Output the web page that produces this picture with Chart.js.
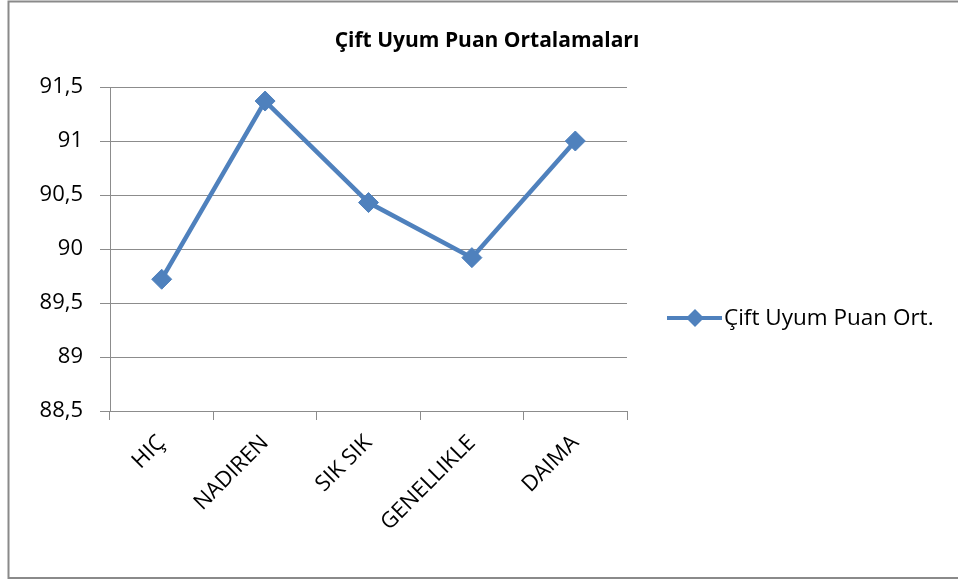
<!DOCTYPE html>
<html lang="tr">
<head>
  <meta charset="UTF-8">
  <title>Çift Uyum Puan Ortalamaları</title>
  <script src="https://cdn.jsdelivr.net/npm/chart.js"></script>
  <style>
    html, body { margin: 0; padding: 0; background: #fff; }
  </style>
</head>
<body>
  <canvas id="uyumChart" width="958" height="581"></canvas>

  <script>
    // data
    const categories = ['HIÇ', 'NADIREN', 'SIK SIK', 'GENELLIKLE', 'DAIMA'];
    const puanOrt = [89.72, 91.37, 90.43, 89.92, 91.0];
    const seriesName = 'Çift Uyum Puan Ort.';
    const chartTitle = 'Çift Uyum Puan Ortalamaları';
    const yMin = 88.5, yMax = 91.5, yStep = 0.5;

    const FONT = "'Open Sans', sans-serif";
    const BLUE = '#4F81BD';
    const GRID = '#8c8c8c';

    // frame, title and legend drawn like the Excel chart
    const excelDecor = {
      id: 'excelDecor',
      beforeDraw(chart) {
        const ctx = chart.ctx;
        ctx.save();
        ctx.fillStyle = '#fff';
        ctx.fillRect(0, 0, chart.width, chart.height);
        ctx.strokeStyle = '#8a8a8a';
        ctx.lineWidth = 2;
        ctx.strokeRect(8.5, 1.5, 1000, 576.5);
        ctx.restore();
      },
      afterDraw(chart) {
        const ctx = chart.ctx;
        const ds = chart.data.datasets[0];
        ctx.save();
        // title
        ctx.fillStyle = '#000';
        ctx.font = "bold 21px " + FONT;
        ctx.textAlign = 'center';
        ctx.textBaseline = 'middle';
        ctx.fillText(chartTitle, 487, 41);
        // legend
        const ly = 318;
        ctx.strokeStyle = ds.borderColor;
        ctx.lineWidth = 4;
        ctx.beginPath();
        ctx.moveTo(667, ly);
        ctx.lineTo(722, ly);
        ctx.stroke();
        ctx.fillStyle = ds.pointBackgroundColor;
        ctx.beginPath();
        ctx.moveTo(695, ly - 9);
        ctx.lineTo(704, ly);
        ctx.lineTo(695, ly + 9);
        ctx.lineTo(686, ly);
        ctx.closePath();
        ctx.fill();
        ctx.fillStyle = '#000';
        ctx.font = "22.5px " + FONT;
        ctx.textAlign = 'left';
        ctx.fillText(ds.label, 724, ly + 1);
        ctx.restore();
      }
    };

    const ctx = document.getElementById('uyumChart').getContext('2d');
    new Chart(ctx, {
      type: 'line',
      data: {
        labels: categories,
        datasets: [{
          label: seriesName,
          data: puanOrt,
          borderColor: BLUE,
          backgroundColor: BLUE,
          borderWidth: 4.5,
          pointStyle: 'rectRot',
          pointRadius: 10,
          pointBackgroundColor: BLUE,
          pointBorderColor: BLUE,
          pointBorderWidth: 1,
          tension: 0
        }]
      },
      options: {
        responsive: false,
        animation: false,
        devicePixelRatio: 1,
        layout: { padding: { top: 87, right: 331, left: 0, bottom: 0 } },
        plugins: {
          legend: { display: false },
          title: { display: false },
          tooltip: { enabled: false }
        },
        scales: {
          x: {
            offset: true,
            grid: {
              offset: true,
              drawOnChartArea: false,
              drawTicks: true,
              tickLength: 9,
              color: GRID
            },
            border: { color: GRID, width: 1 },
            ticks: {
              color: '#000',
              font: { family: FONT, size: 22 },
              maxRotation: 45,
              minRotation: 45,
              padding: 10,
              autoSkip: false
            },
            afterFit(scale) { scale.height = 170; }
          },
          y: {
            min: yMin,
            max: yMax,
            grid: { color: GRID, tickLength: 10 },
            border: { color: GRID, width: 1 },
            ticks: {
              stepSize: yStep,
              color: '#000',
              font: { family: FONT, size: 22 },
              padding: 17,
              callback: v => String(v).replace('.', ',')
            },
            afterFit(scale) { scale.width = 110; }
          }
        }
      },
      plugins: [excelDecor]
    });
  </script>
</body>
</html>
